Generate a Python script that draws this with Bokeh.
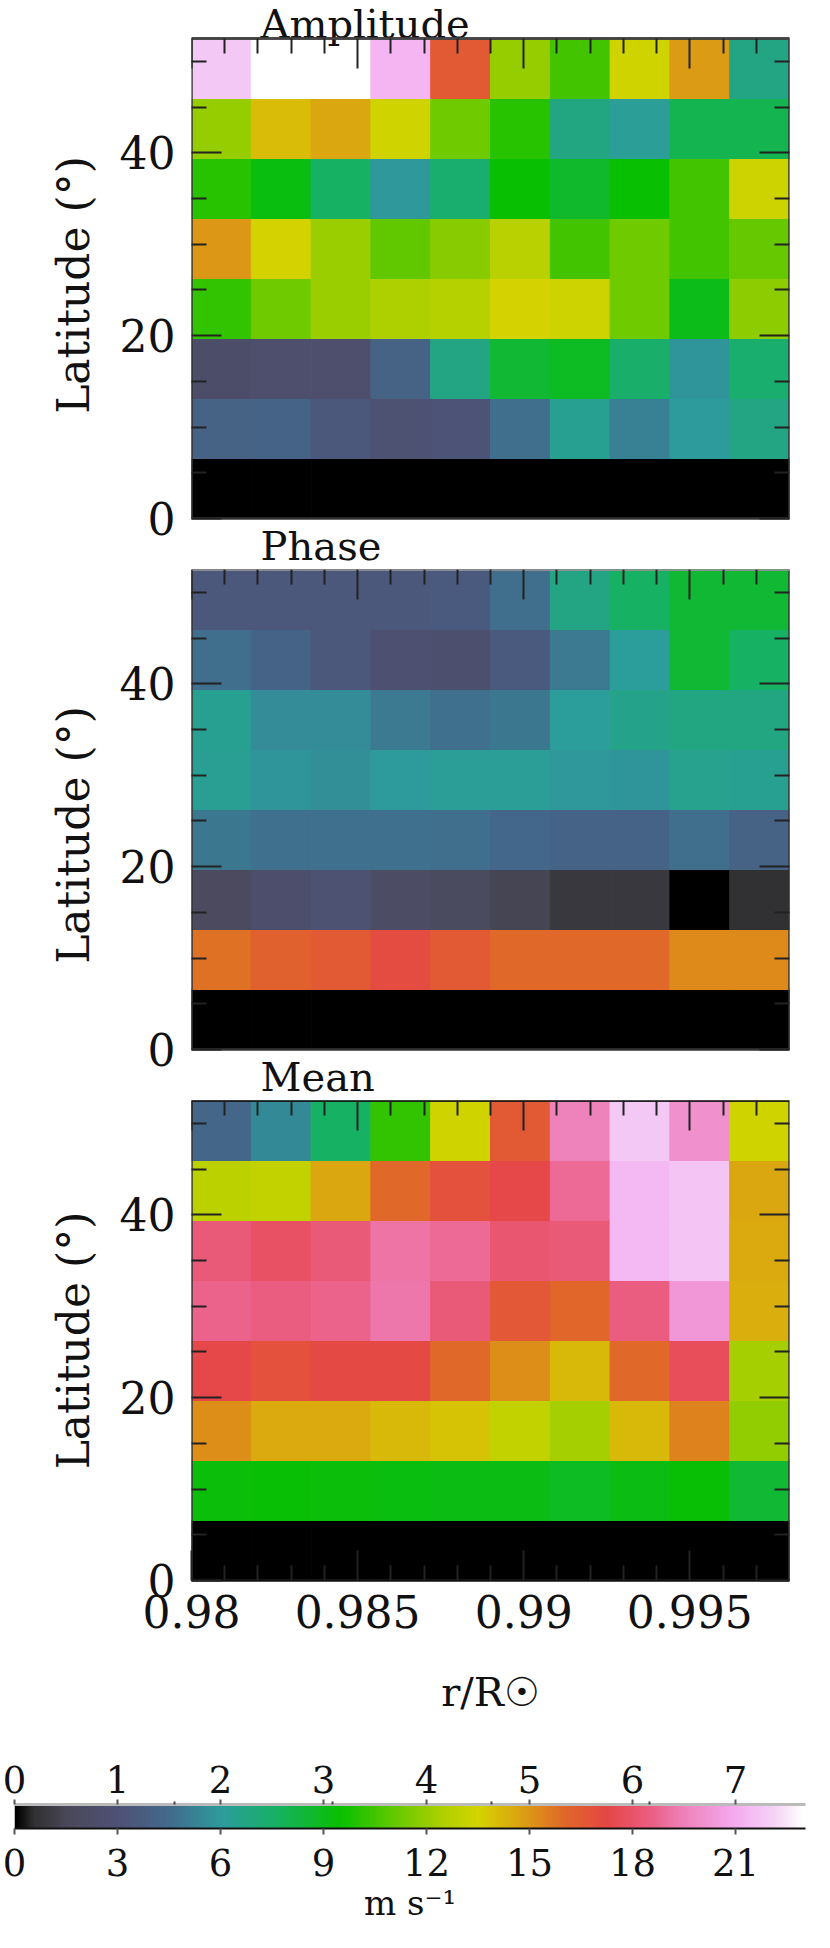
import numpy as np
from bokeh.plotting import figure
from bokeh.models import (Range1d, LinearAxis, FixedTicker, LinearColorMapper,
                          ColumnDataSource, CustomJSTickFormatter)
from bokeh.core.properties import value
from bokeh.layouts import column, row
from bokeh.embed import file_html
from bokeh.resources import INLINE

# ---------------- data ----------------
r_edges = [0.98, 0.9818, 0.9836, 0.9854, 0.9872, 0.9890, 0.9908, 0.9926, 0.9944, 0.9962, 0.9980]
lat_edges = [0.0, 6.5625, 13.125, 19.6875, 26.25, 32.8125, 39.375, 45.9375, 52.5]

# rows: lowest latitude bin first; columns: increasing r/R
amplitude = [
    [0.0, 0.0, 0.0, 0.0, 0.0, 0.0, 0.0, 0.0, 0.0, 0.0],
    [4.0, 4.1, 3.4, 2.8, 3.1, 4.6, 6.3, 5.2, 6.0, 6.7],
    [2.4, 2.6, 2.6, 4.0, 6.7, 8.5, 8.9, 7.4, 5.8, 7.3],
    [10.2, 11.3, 12.1, 12.5, 12.6, 13.5, 13.3, 11.3, 9.0, 11.8],
    [15.0, 13.5, 12.1, 11.0, 11.7, 12.7, 10.5, 11.3, 10.5, 11.1],
    [10.0, 9.2, 7.6, 5.9, 7.3, 9.5, 8.7, 9.5, 10.5, 13.3],
    [12.0, 14.1, 14.6, 13.4, 11.3, 10.0, 6.8, 6.2, 8.0, 8.0],
    [21.8, 23.0, 23.0, 21.3, 16.5, 12.0, 10.5, 13.4, 14.9, 6.7],
]

phase = [
    [0.0, 0.0, 0.0, 0.0, 0.0, 0.0, 0.0, 0.0, 0.0, 0.0],
    [5.27, 5.40, 5.50, 5.67, 5.50, 5.33, 5.33, 5.33, 5.07, 5.07],
    [0.60, 0.83, 0.93, 0.73, 0.63, 0.47, 0.27, 0.27, 0.0, 0.18],
    [1.63, 1.57, 1.57, 1.57, 1.53, 1.45, 1.37, 1.37, 1.53, 1.33],
    [2.07, 1.93, 1.87, 2.00, 2.05, 2.05, 1.95, 1.93, 2.13, 2.10],
    [2.10, 1.83, 1.83, 1.65, 1.57, 1.63, 2.02, 2.17, 2.27, 2.27],
    [1.53, 1.37, 1.13, 0.90, 0.87, 1.17, 1.67, 2.03, 2.83, 2.53],
    [1.13, 1.13, 1.13, 1.13, 1.17, 1.53, 2.23, 2.53, 2.83, 2.83],
]

mean = [
    [0.0, 0.0, 0.0, 0.0, 0.0, 0.0, 0.0, 0.0, 0.0, 0.0],
    [9.3, 9.4, 9.3, 9.2, 9.1, 9.1, 8.9, 9.1, 9.4, 8.5],
    [15.2, 14.5, 14.5, 14.2, 13.9, 13.0, 12.3, 14.2, 15.4, 11.9],
    [17.3, 16.9, 17.1, 17.1, 16.0, 15.2, 14.2, 16.0, 17.7, 12.3],
    [18.7, 18.5, 18.7, 19.2, 18.3, 16.6, 16.1, 18.5, 20.3, 14.4],
    [18.3, 17.9, 18.3, 19.1, 18.9, 18.1, 18.3, 21.4, 21.7, 14.5],
    [12.8, 13.0, 14.6, 16.0, 16.9, 17.3, 18.9, 21.4, 21.7, 14.6],
    [4.3, 5.4, 7.6, 10.2, 13.4, 16.5, 19.6, 21.8, 20.0, 13.4],
]

titles = ["Amplitude", "Phase", "Mean"]

x_major_ticks = [0.98, 0.985, 0.99, 0.995]
x_minor_ticks = [0.981, 0.982, 0.983, 0.984, 0.986, 0.987, 0.988, 0.989,
                 0.991, 0.992, 0.993, 0.994, 0.996, 0.997]
y_major_ticks = [0, 20, 40]
y_minor_ticks = [5, 10, 15, 25, 30, 35, 45, 50]

speed_max = 23.04
phase_max = 7.68
speed_ticks = [0, 3, 6, 9, 12, 15, 18, 21]
phase_ticks = [0, 1, 2, 3, 4, 5, 6, 7]
phase_minor_ticks = [1.55, 3.09, 4.63, 6.17]

# ---------------- colour table ----------------
anchors = [
    (0.0, "#000000"), (0.5, "#303032"), (1.5, "#4a4858"), (3.0, "#4e5276"),
    (4.5, "#426a8c"), (6.0, "#2c9c9c"), (7.5, "#18b068"), (9.5, "#08c000"),
    (11.0, "#60c800"), (12.5, "#b0d000"), (13.5, "#d4d400"), (14.8, "#dca012"),
    (16.0, "#e06828"), (17.3, "#e64646"), (18.5, "#ea5c80"), (19.5, "#ee80b8"),
    (21.0, "#f4aaf0"), (22.2, "#f4d4f6"), (23.04, "#ffffff"),
]


def make_palette(n=256):
    pos = np.array([a[0] for a in anchors]) / anchors[-1][0]
    rgb = np.array([[int(c[i:i + 2], 16) for i in (1, 3, 5)] for _, c in anchors], dtype=float)
    t = np.linspace(0, 1, n)
    cols = []
    for tt in t:
        r, g, b = (int(round(np.interp(tt, pos, rgb[:, k]))) for k in range(3))
        cols.append("#%02x%02x%02x" % (r, g, b))
    return cols


palette = make_palette()
speed_mapper = LinearColorMapper(palette=palette, low=0, high=speed_max)
phase_mapper = LinearColorMapper(palette=palette, low=0, high=phase_max)

FONT = "DejaVu Serif"
TXT = "#111111"
PX_PER_DEG = 480 / 52.5          # vertical scale of every panel
TITLE_X = 0.98208                # left edge of the panel titles


def cells_source(values):
    left, right, bottom, top, val = [], [], [], [], []
    for i in range(len(lat_edges) - 1):
        for j in range(len(r_edges) - 1):
            left.append(r_edges[j]); right.append(r_edges[j + 1])
            bottom.append(lat_edges[i]); top.append(lat_edges[i + 1])
            val.append(values[i][j])
    return ColumnDataSource(dict(left=left, right=right, bottom=bottom, top=top, value=val))


def style_axis(ax, line_color=None, labels=True, size="44px"):
    ax.axis_line_color = line_color
    ax.axis_line_width = 2.5
    ax.major_tick_in = 30
    ax.major_tick_out = 0
    ax.minor_tick_in = 15
    ax.minor_tick_out = 0
    ax.major_tick_line_color = "#222222"
    ax.minor_tick_line_color = "#222222"
    ax.major_tick_line_width = 2
    ax.minor_tick_line_width = 2
    ax.major_label_text_font = FONT
    ax.axis_label_text_font = FONT
    ax.axis_label_text_font_style = "normal"
    ax.axis_label_text_color = TXT
    if labels:
        ax.major_label_text_font_size = size
        ax.major_label_text_color = TXT
    else:
        ax.major_label_text_font_size = "0px"
        ax.major_label_text_color = None
        ax.major_label_standoff = 0


def panel(values, mapper, height, y_lo, y_hi, b_bottom, top_line, x_labels, title_rows):
    p = figure(width=814, height=height,
               x_range=Range1d(r_edges[0], r_edges[-1]), y_range=Range1d(y_lo, y_hi),
               output_backend="svg", toolbar_location=None,
               x_axis_location=None, y_axis_location=None,
               min_border_left=191, min_border_right=25,
               min_border_top=0, min_border_bottom=b_bottom)
    p.xgrid.visible = False
    p.ygrid.visible = False
    p.outline_line_color = None
    p.background_fill_color = "white"
    p.border_fill_color = "white"

    src = cells_source(values)
    fill = {"field": "value", "transform": mapper}
    p.quad(left="left", right="right", bottom="bottom", top="top", source=src,
           fill_color=fill, line_color=fill, line_width=1)
    # frame of the map
    p.quad(left=r_edges[0], right=r_edges[-1], bottom=lat_edges[0], top=lat_edges[-1],
           fill_color=None, line_color="#333333", line_width=2.5)

    yt = FixedTicker(ticks=y_major_ticks, minor_ticks=y_minor_ticks)
    xt = FixedTicker(ticks=x_major_ticks, minor_ticks=x_minor_ticks)

    left = LinearAxis(ticker=yt, axis_label="Latitude (°)")
    style_axis(left)
    left.major_label_standoff = 16
    left.axis_label_text_font_size = "44px"
    left.axis_label_standoff = 18
    p.add_layout(left, "left")

    right = LinearAxis(ticker=yt)
    style_axis(right, labels=False)
    p.add_layout(right, "right")

    above = LinearAxis(ticker=xt, fixed_location=lat_edges[-1])
    style_axis(above, line_color=top_line, labels=False)
    p.add_layout(above, "above")

    if x_labels:
        below = LinearAxis(ticker=xt, axis_label="r/R☉")
        style_axis(below, line_color="#111111")
        below.formatter = CustomJSTickFormatter(code="return String(Math.round(tick*1000)/1000);")
        below.major_label_standoff = 14
        below.axis_label_text_font_size = "40px"
        below.axis_label_standoff = 38
        p.add_layout(below, "below")

    # panel titles (written inside the canvas, above each map)
    tx, ty, tt = [], [], []
    for name, baseline_px in title_rows:
        tx.append(TITLE_X)
        ty.append(baseline_px / PX_PER_DEG)
        tt.append(name)
    if tt:
        p.text(x="x", y="y", text="text", source=ColumnDataSource(dict(x=tx, y=ty, text=tt)),
               text_font=value(FONT), text_font_size=value("40px"), text_color=TXT,
               text_baseline=value("alphabetic"), text_align=value("left"))
    return p


# vertical extents (data units) of each canvas
top1 = lat_edges[-1] + 38 / PX_PER_DEG
bot1 = -51 / PX_PER_DEG
p1 = panel(amplitude, speed_mapper, 569, bot1, top1, 0, "#444444", False,
           [(titles[0], lat_edges[-1] * PX_PER_DEG + 15), (titles[1], -27)])
p2 = panel(phase, phase_mapper, 531, lat_edges[-1] - 531 / PX_PER_DEG, lat_edges[-1], 0,
           "#aaaaaa", False, [(titles[2], -27)])
p3 = panel(mean, speed_mapper, 640, lat_edges[0], lat_edges[-1], 160, "#111111", True, [])

# ---------------- colour bar ----------------
cb = figure(width=814, height=192, x_range=Range1d(0, speed_max), y_range=Range1d(0, 1),
            output_backend="svg", toolbar_location=None,
            x_axis_location=None, y_axis_location=None,
            min_border_left=14, min_border_right=9, min_border_top=64, min_border_bottom=104)
cb.xgrid.visible = False
cb.ygrid.visible = False
cb.outline_line_color = None
gradient = np.linspace(0, speed_max, 800)[None, :]
cb.image(image=[gradient], x=0, y=0, dw=speed_max, dh=1, color_mapper=speed_mapper)

cb.extra_x_ranges = {"phase": Range1d(0, phase_max)}
top_ax = LinearAxis(x_range_name="phase",
                    ticker=FixedTicker(ticks=phase_ticks, minor_ticks=phase_minor_ticks))
top_ax.axis_line_color = "#bbbbbb"
top_ax.axis_line_width = 3
top_ax.major_tick_in = 0
top_ax.major_tick_out = 5
top_ax.minor_tick_in = 0
top_ax.minor_tick_out = 3
top_ax.major_tick_line_color = "#555555"
top_ax.minor_tick_line_color = "#444444"
top_ax.major_tick_line_width = 2
top_ax.minor_tick_line_width = 2
top_ax.major_label_text_font = FONT
top_ax.major_label_text_font_size = "37px"
top_ax.major_label_text_color = TXT
top_ax.major_label_standoff = 7
cb.add_layout(top_ax, "above")

bot_ax = LinearAxis(ticker=FixedTicker(ticks=speed_ticks), axis_label="m s⁻¹")
bot_ax.axis_line_color = "#111111"
bot_ax.axis_line_width = 2
bot_ax.major_tick_in = 0
bot_ax.major_tick_out = 6
bot_ax.minor_tick_line_color = None
bot_ax.major_tick_line_color = "#555555"
bot_ax.major_tick_line_width = 2
bot_ax.major_label_text_font = FONT
bot_ax.major_label_text_font_size = "37px"
bot_ax.major_label_text_color = TXT
bot_ax.major_label_standoff = 14
bot_ax.axis_label_text_font = FONT
bot_ax.axis_label_text_font_size = "34px"
bot_ax.axis_label_text_font_style = "normal"
bot_ax.axis_label_text_color = TXT
bot_ax.axis_label_standoff = 4
cb.add_layout(bot_ax, "below")

layout = column(column(p1, p2, p3), row(cb))
open("out.html", "w").write(file_html(layout, INLINE))
